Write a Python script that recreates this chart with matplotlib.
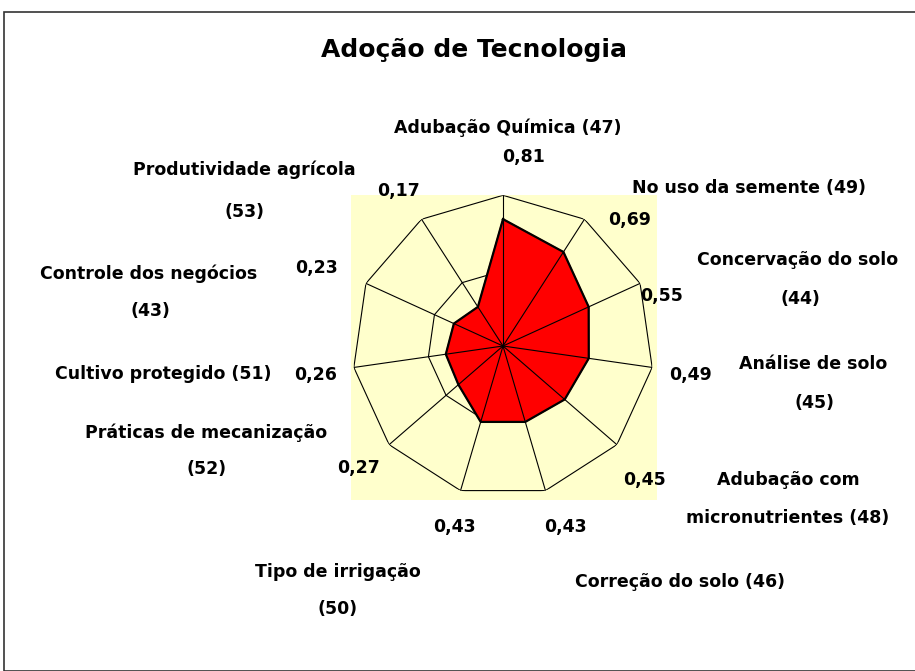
"""Radar chart: Adoção de Tecnologia."""

import matplotlib

matplotlib.use("Agg")

import matplotlib.pyplot as plt
import numpy as np
from matplotlib.patches import Rectangle

categories = [
    "Adubação Química (47)",
    "No uso da semente (49)",
    "Concervação do solo (44)",
    "Análise de solo (45)",
    "Adubação com micronutrientes (48)",
    "Correção do solo (46)",
    "Tipo de irrigação (50)",
    "Práticas de mecanização (52)",
    "Cultivo protegido (51)",
    "Controle dos negócios (43)",
    "Produtividade agrícola (53)",
]
values = [0.81, 0.69, 0.55, 0.49, 0.45, 0.43, 0.43, 0.27, 0.26, 0.23, 0.17]
r_min, r_max = -0.2, 1.0
grid_levels = [0.4, 1.0]

# label placement (pixel centres, from top-left) as in the original slide
cat_text = [
    ("Adubação Química (47)", 508, 128),
    ("No uso da semente (49)", 749, 188),
    ("Concervação do solo", 798, 260), ("(44)", 800, 299),
    ("Análise de solo", 813, 364), ("(45)", 815, 403),
    ("Adubação com", 788, 480), ("micronutrientes (48)", 788, 518),
    ("Correção do solo (46)", 680, 582),
    ("Tipo de irrigação", 338, 572), ("(50)", 338, 609),
    ("Práticas de mecanização", 206, 433), ("(52)", 207, 469),
    ("Cultivo protegido (51)", 163, 374),
    ("Controle dos negócios", 149, 274), ("(43)", 150, 311),
    ("Produtividade agrícola", 244, 170), ("(53)", 244, 212),
]
val_pos = [(524, 157), (630, 220), (662, 296), (690, 375), (645, 480),
           (565, 527), (454, 527), (358, 468), (316, 375), (316, 268), (398, 191)]

W, H = 915, 671
fig = plt.figure(figsize=(W / 100, H / 100), dpi=100)


def fx(x):
    return x / W


def fy(y):
    return 1 - y / H


# slide border and yellow plot area
fig.patches.append(Rectangle((fx(4), fy(671)), fx(915), fy(12), transform=fig.transFigure,
                             fill=False, edgecolor="#333333", linewidth=1.2, zorder=-2))
fig.patches.append(Rectangle((fx(351), fy(500)), fx(306), 305 / H, transform=fig.transFigure,
                             facecolor="#FFFFCC", edgecolor="none", zorder=-1))

cx, cy, rad = 503, 346, 150.7
ax = fig.add_axes([fx(cx - rad), fy(cy + rad), 2 * rad / W, 2 * rad / H], projection="polar")
ax.set_zorder(2)
ax.set_theta_zero_location("N")
ax.set_theta_direction(-1)
ax.set_ylim(r_min, r_max)
ax.patch.set_visible(False)
ax.spines["polar"].set_visible(False)
ax.grid(False)
ax.set_xticks([])
ax.set_yticks([])

n = len(values)
angles = np.linspace(0, 2 * np.pi, n, endpoint=False)
closed = np.append(angles, angles[0])

for lev in grid_levels:
    ax.plot(closed, [lev] * (n + 1), color="black", linewidth=0.8, zorder=1)

data = np.append(values, values[0])
ax.fill(closed, data, color="#FF0000", zorder=2)
ax.plot(closed, data, color="black", linewidth=1.6, zorder=3)

for a in angles:
    ax.plot([a, a], [r_min, r_max], color="black", linewidth=0.8, zorder=4)

font = dict(fontsize=12.5, fontweight="bold", family="DejaVu Sans", ha="center", va="center")
for txt, x, y in cat_text:
    fig.text(fx(x), fy(y), txt, **font)
for v, (x, y) in zip(values, val_pos):
    fig.text(fx(x), fy(y), f"{v:.2f}".replace(".", ","), **font)

fig.text(fx(474), fy(50), "Adoção de Tecnologia", fontsize=18, fontweight="bold",
         family="DejaVu Sans", ha="center", va="center")

fig.savefig("out.png", dpi=100)
